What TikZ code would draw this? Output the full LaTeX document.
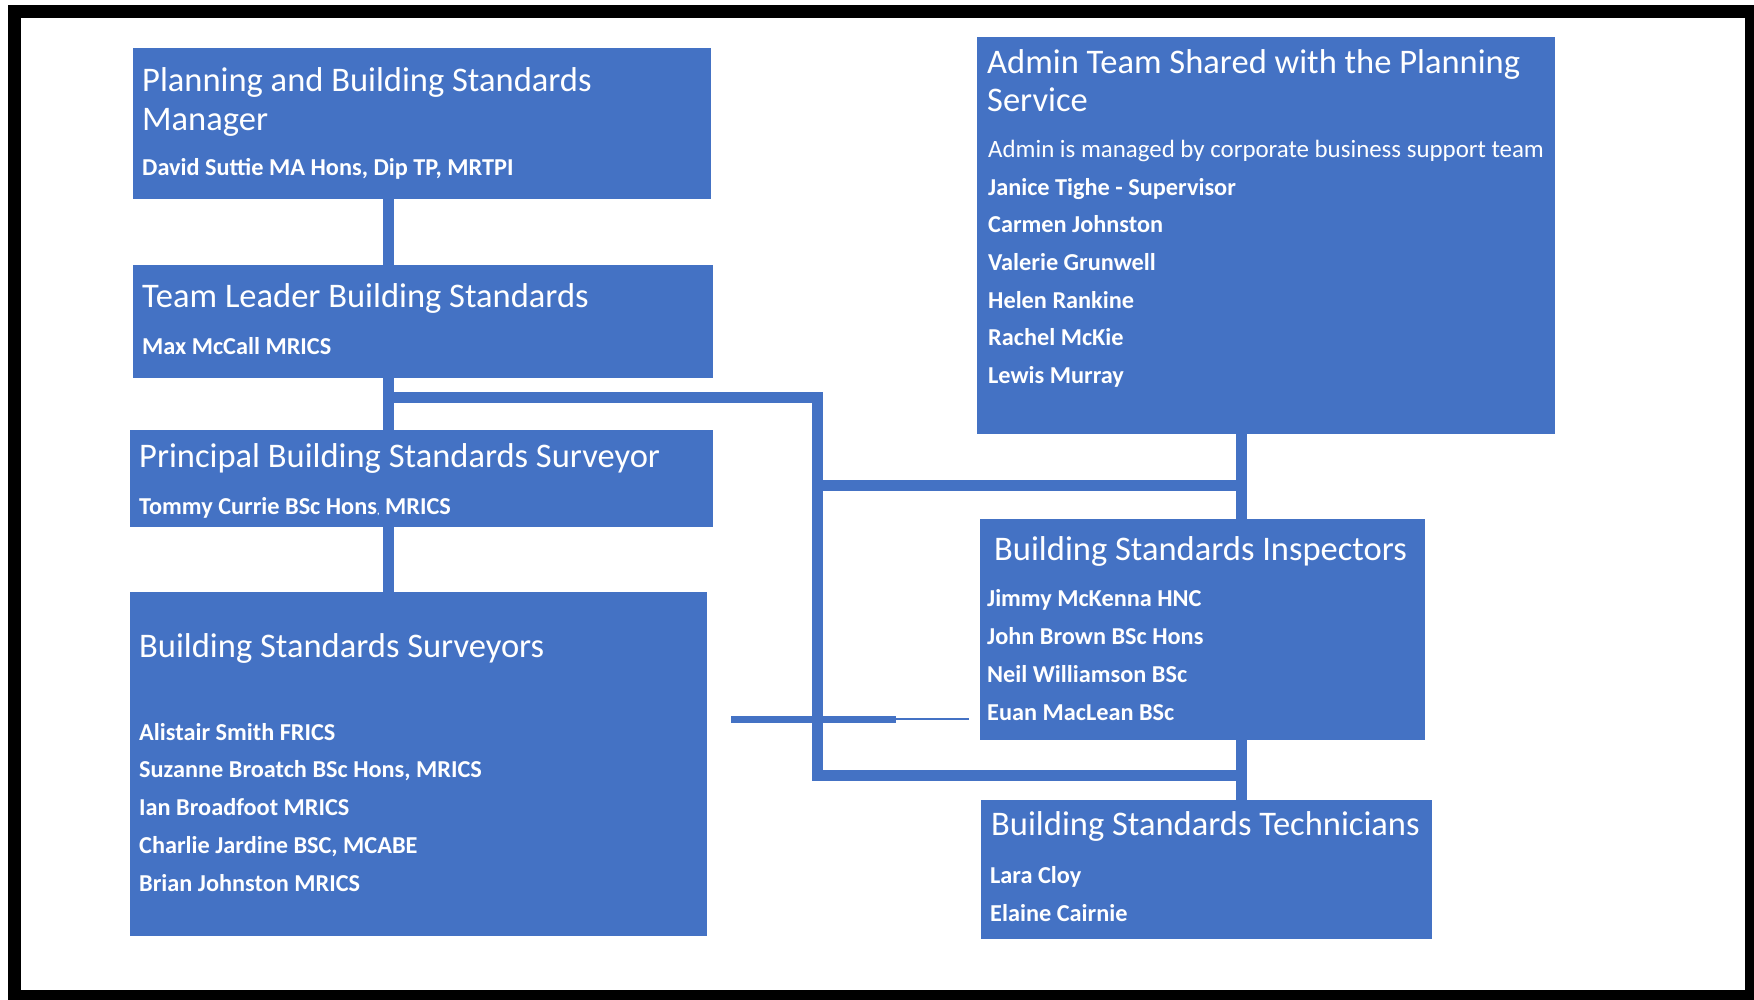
\documentclass[tikz,border=0pt]{standalone}
\usepackage{fontspec}
\setmainfont{Carlito}
\definecolor{orgblue}{HTML}{4472C4}
\newcommand\headfont{\fontsize{34.5}{38.5}\selectfont}
\newcommand\namefont{\fontsize{24.3}{37.7}\selectfont\bfseries}
\begin{document}
\begin{tikzpicture}[x=1pt,y=-1pt,
        unit/.style={fill=orgblue,anchor=north west,inner sep=0pt},
        head/.style={text=white,anchor=base west,inner sep=0pt,align=left,font=\headfont},
        names/.style={text=white,anchor=base west,inner sep=0pt,align=left,font=\namefont},
        link/.style={draw=orgblue,line width=11pt}]
        \useasboundingbox (0,0) rectangle (1754,999);
        \draw[line width=13pt](14.5,11) rectangle (1751,996.5);
        % boxes
        \node[unit,minimum width=578pt,minimum height=151pt](mgr) at(133,48){};
        \node[unit,minimum width=580pt,minimum height=113pt](tl) at(133,265){};
        \node[unit,minimum width=583pt,minimum height=97pt](pbs) at(130,430){};
        \node[unit,minimum width=577pt,minimum height=344pt](bss) at(130,592){};
        \node[unit,minimum width=578pt,minimum height=397pt](adm) at(977,37){};
        \node[unit,minimum width=445pt,minimum height=221pt](bsi) at(980,519){};
        \node[unit,minimum width=451pt,minimum height=139pt](bst) at(981,800){};
        % texts (base = last line)
        \node[head](mgr-t) at(142,130){Planning and Building Standards\\Manager};
        \node[names](mgr-n) at(142,175){David Suttie MA Hons, Dip TP, MRTPI};
        \node[head](tl-t) at(142,307){Team Leader Building Standards};
        \node[names](tl-n) at(142,354){Max McCall MRICS};
        \node[head](pbs-t) at(139,467){Principal Building Standards Surveyor};
        \node[names](pbs-n) at(139,514){Tommy Currie BSc Hons{\fontsize{10}{10}\selectfont,}\ MRICS};
        \node[head](bss-t) at(139,657){Building Standards Surveyors};
        \node[names](bss-n) at(139,891){Alistair Smith FRICS\\Suzanne Broatch BSc Hons, MRICS\\Ian Broadfoot MRICS\\Charlie Jardine BSC, MCABE\\Brian Johnston MRICS};
        \node[head](adm-t) at(987,111.5){Admin Team Shared with the Planning\\Service};
        \node[names](adm-n) at(988,383.6){{\mdseries\fontsize{24.9}{37.7}\selectfont Admin is managed by corporate business support team}\\Janice Tighe - Supervisor\\Carmen Johnston\\Valerie Grunwell\\Helen Rankine\\Rachel McKie\\Lewis Murray};
        \node[head](bsi-t) at(994,560){Building Standards Inspectors};
        \node[names](bsi-n) at(987,720){Jimmy McKenna HNC\\John Brown BSc Hons\\Neil Williamson BSc\\Euan MacLean BSc};
        \node[head](bst-t) at(991,835){Building Standards Technicians};
        \node[names](bst-n) at(990,921){Lara Cloy\\Elaine Cairnie};
        % connectors
        \coordinate(spine) at(388,0);
        \coordinate(tee) at(388,397);
        \coordinate(rail) at(817,397);
        \coordinate(trunk) at(1241,0);
        \coordinate(midbar) at(817,485);
        \coordinate(lowbar) at(817,775);
        \draw[link](mgr.south -| spine)--([yshift=-4pt]tl.north -| spine);
        \draw[link](tl.south -| spine)--(pbs.north -| spine);
        \draw[link](pbs.south -| spine)--(bss.north -| spine);
        \draw[link](tee)--(rail)--(lowbar)--(lowbar -| trunk);
        \draw[link](midbar)--(midbar -| trunk);
        \draw[link](adm.south -| trunk)--(bsi.north -| trunk);
        \draw[link](bsi.south -| trunk)--(bst.north -| trunk);
        \coordinate(stub) at(731,719);
        \coordinate(stubmid) at(896,719);
        \draw[orgblue,line width=7pt](stub)--(stubmid);
        \draw[orgblue,line width=1.5pt](stubmid)--([xshift=-11pt]bsi.west |- stubmid);
\end{tikzpicture}
\end{document}
